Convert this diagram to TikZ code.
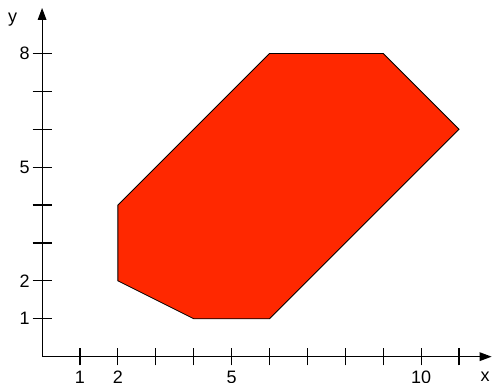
\documentclass[tikz,border=0pt]{standalone}
\usepackage{fontspec}
\setmainfont{Liberation Sans}
\usetikzlibrary{arrows.meta}
\definecolor{polyred}{RGB}{255,40,0}
\tikzstyle{axis} = [line width=0.85pt, -{Triangle[length=9pt,width=6.5pt]}]
\tikzstyle{tick} = [line width=0.85pt]

\begin{document}
\begin{tikzpicture}[x=1cm,y=1cm,every node/.style={font=\fontsize{13.5}{15}\selectfont,inner sep=0pt}]
    \useasboundingbox (-1.11,-0.67) rectangle (11.87,9.41);
    \fill[polyred,draw=black,line width=0.6pt] (2,2) -- (2,4) -- (6,8) -- (9,8)
        -- (11,6) -- (6,1) -- (4,1) -- cycle;
    \coordinate (o) at (0,0);
    \coordinate (xend) at (11.86,0);
    \coordinate (yend) at (0,9.2);
    \draw[axis] (o) -- (xend);
    \draw[axis] (o) -- (yend);
    \node[anchor=north] (xlab) at (11.69,-0.40) {x};
    \node[anchor=base] (ylab) at (-0.78,8.82) {y};
    \foreach \x in {1,...,11}{
        \draw[tick] (\x,-0.23) -- (\x,0.23);
    }
    \foreach \y in {1,...,8}{
        \draw[tick] (-0.25,\y) -- (0.25,\y);
    }
    \foreach \x in {1,2,5,10}{
        \node[anchor=north] (x\x) at (\x,-0.38) {\x};
    }
    \foreach \y in {1,2,5,8}{
        \node[anchor=east] (y\y) at (-0.32,\y) {\y};
    }
\end{tikzpicture}
\end{document}
